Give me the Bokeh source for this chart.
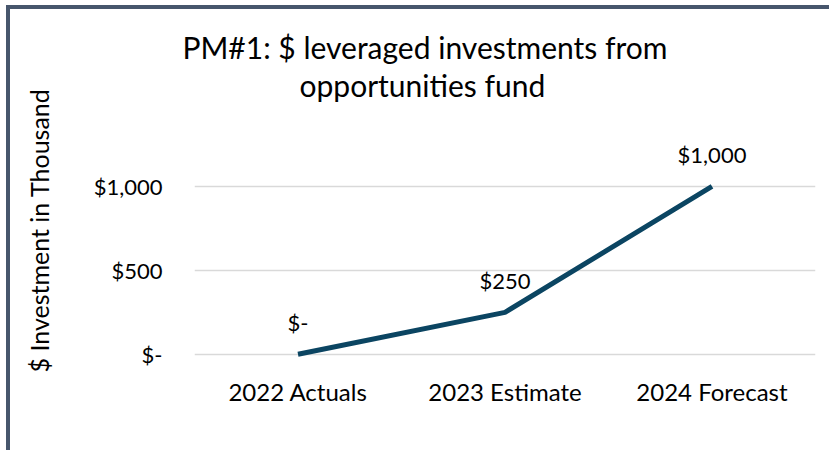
from bokeh.plotting import figure
from bokeh.models import Range1d, Title, FixedTicker, ColumnDataSource
from bokeh.embed import file_html
from bokeh.resources import INLINE
from bokeh.core.properties import value

categories = ["2022 Actuals", "2023 Estimate", "2024 Forecast"]
values = [0, 250, 1000]
value_labels = ["$-", "$250", "$1,000"]
y_ticks = [0, 500, 1000]
y_tick_labels = {0: "$-", 500: "$500", 1000: "$1,000"}
title_lines = ["PM#1: $ leveraged investments from", "opportunities fund"]

FONT = "Lato"
LINE_COLOR = "#0b4562"
FRAME_COLOR = "#47566c"

p = figure(
    x_range=categories,
    y_range=Range1d(-25, 1500),
    width=823, height=445,
    output_backend="svg", toolbar_location=None,
    min_border_left=184, min_border_right=18,
    min_border_top=93, min_border_bottom=96,
    styles={"border-left": f"4px solid {FRAME_COLOR}",
            "border-top": f"4px solid {FRAME_COLOR}",
            "margin-left": "6px", "margin-top": "5px"},
)
p.outline_line_color = None

p.xgrid.grid_line_color = None
p.ygrid.grid_line_color = "#d9d9d9"
p.ygrid.grid_line_width = 1.5

p.yaxis.ticker = FixedTicker(ticks=y_ticks)
p.yaxis.major_label_overrides = y_tick_labels
p.yaxis.axis_line_color = None
p.yaxis.major_tick_line_color = None
p.yaxis.minor_tick_line_color = None
p.yaxis.major_label_standoff = 26
p.yaxis.major_label_text_font = FONT
p.yaxis.major_label_text_font_size = "22px"
p.yaxis.major_label_text_color = "#000000"
p.yaxis.axis_label = "$ Investment in Thousand"
p.yaxis.axis_label_text_font = FONT
p.yaxis.axis_label_text_font_style = "normal"
p.yaxis.axis_label_text_font_size = "25px"
p.yaxis.axis_label_text_color = "#000000"
p.yaxis.axis_label_standoff = 37

p.xaxis.axis_line_color = None
p.xaxis.major_tick_line_color = None
p.xaxis.minor_tick_line_color = None
p.xaxis.major_label_standoff = 12
p.xaxis.major_label_text_font = FONT
p.xaxis.major_label_text_font_size = "24px"
p.xaxis.major_label_text_color = "#000000"

src = ColumnDataSource(dict(x=categories, y=values, t=value_labels))
p.line("x", "y", source=src, line_color=LINE_COLOR, line_width=5)
p.text("x", "y", text="t", source=src, y_offset=-32, text_align="center",
       text_baseline="middle", text_font=value(FONT), text_font_size="22px",
       text_color="#000000")

p.title.visible = False
t2 = Title(text=title_lines[1], align="left", offset=105, standoff=0,
           text_font=FONT, text_font_size="30px", text_font_style="normal",
           text_color="#000000")
t1 = Title(text=title_lines[0], align="left", offset=-12, standoff=0,
           text_font=FONT, text_font_size="30px", text_font_style="normal",
           text_color="#000000")
p.add_layout(t2, "above")
p.add_layout(t1, "above")

open("out.html", "w").write(file_html(p, INLINE))
